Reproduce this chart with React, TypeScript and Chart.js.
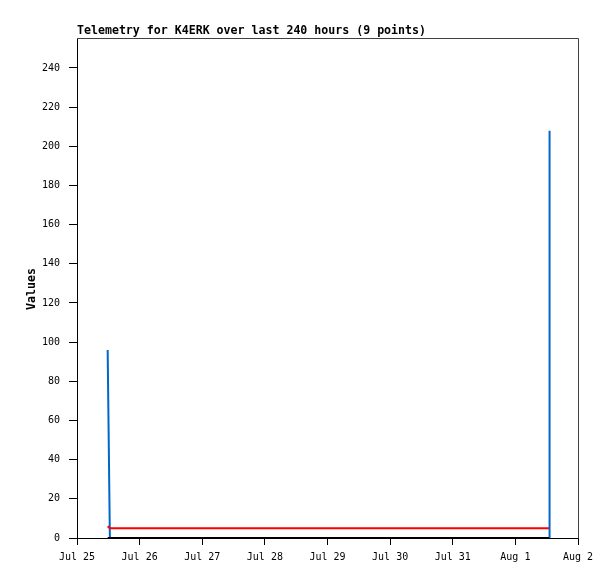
import React, { useEffect, useRef } from "react";
import { Chart, registerables } from "chart.js";

Chart.register(...registerables);

// hours since Jul 25 00:00
const times = [11.75, 12.6, 180.9, 181.1];
const blueValues = [96, 0, 0, 208];
const redValues = [6, 5, 5, null];
const blackValues = [0, 0, 0, 0];
const dayLabels = ["Jul 25", "Jul 26", "Jul 27", "Jul 28", "Jul 29", "Jul 30", "Jul 31", "Aug 1", "Aug 2"];
const xTicks = [0, 24, 48, 72, 96, 120, 144, 168, 192];
const yTicks = [0, 20, 40, 60, 80, 100, 120, 140, 160, 180, 200, 220, 240];
const titleText = "Telemetry for K4ERK over last 240 hours (9 points)";
const yTitle = "Values";

const W = 615;
const H = 579;

const toPts = (vals: (number | null)[]) => vals.map((v, i) => ({ x: times[i], y: v }));

export default function App() {
  const ref = useRef<HTMLCanvasElement | null>(null);
  useEffect(() => {
    if (!ref.current) return;
    const framePlugin = {
      id: "frame",
      afterDraw(chart: any) {
        const { ctx, chartArea: a } = chart;
        ctx.save();
        ctx.lineWidth = 1;
        // top & right borders (dark gray)
        ctx.strokeStyle = "#404040";
        ctx.beginPath();
        ctx.moveTo(a.left + 0.5, a.top + 0.5);
        ctx.lineTo(a.right + 0.5, a.top + 0.5);
        ctx.lineTo(a.right + 0.5, a.bottom + 0.5);
        ctx.stroke();
        // left & bottom axes (black)
        ctx.strokeStyle = "#000";
        ctx.beginPath();
        ctx.moveTo(a.left + 0.5, a.top + 0.5);
        ctx.lineTo(a.left + 0.5, a.bottom + 0.5);
        ctx.lineTo(a.right + 0.5, a.bottom + 0.5);
        ctx.stroke();
        ctx.fillStyle = "#000";
        ctx.font = "bold 11.6px 'DejaVu Sans Mono'";
        ctx.textAlign = "left";
        ctx.textBaseline = "alphabetic";
        ctx.fillText(titleText, 77, 34);
        ctx.translate(32, 289);
        ctx.rotate(-Math.PI / 2);
        ctx.font = "bold 11.6px 'DejaVu Sans Mono'";
        ctx.textAlign = "center";
        ctx.textBaseline = "middle";
        ctx.fillText(yTitle, 0, 0);
        ctx.restore();
      },
    };
    const chart = new Chart(ref.current, {
      type: "line",
      data: {
        datasets: [
          { data: toPts(blackValues), borderColor: "#000000", borderWidth: 2, pointRadius: 0, tension: 0 },
          { data: toPts(redValues), borderColor: "#ff0000", borderWidth: 2, pointRadius: 0, tension: 0 },
          { data: toPts(blueValues), borderColor: "#0066cc", borderWidth: 2, pointRadius: 0, tension: 0 },
        ],
      } as any,
      options: {
        animation: false,
        responsive: false,
        devicePixelRatio: 1,
        layout: { padding: { top: 38, right: 37, bottom: 0, left: 0 } },
        plugins: { legend: { display: false }, tooltip: { enabled: false }, title: { display: false } },
        scales: {
          x: {
            type: "linear",
            min: 0,
            max: 192,
            afterFit: (s: any) => { s.height = H - 538; },
            afterBuildTicks: (s: any) => { s.ticks = xTicks.map((v) => ({ value: v })); },
            ticks: {
              autoSkip: false,
              maxRotation: 0,
              padding: 6,
              color: "#000",
              font: { family: "'DejaVu Sans Mono'", size: 10 },
              callback: (v: any) => {
                const i = xTicks.indexOf(Number(v));
                return i >= 0 ? dayLabels[i] : "";
              },
            },
            grid: { drawOnChartArea: false, drawTicks: true, tickLength: 7, color: "#000" },
            border: { display: false },
          },
          y: {
            type: "linear",
            min: 0,
            max: 255.3,
            afterFit: (s: any) => { s.width = 77; },
            afterBuildTicks: (s: any) => { s.ticks = yTicks.map((v) => ({ value: v })); },
            ticks: {
              padding: 9,
              color: "#000",
              font: { family: "'DejaVu Sans Mono'", size: 10 },
            },
            grid: { drawOnChartArea: false, drawTicks: true, tickLength: 8, color: "#000" },
            border: { display: false },
          },
        },
      } as any,
      plugins: [framePlugin],
    });
    return () => chart.destroy();
  }, []);
  return (
    <canvas
      ref={ref}
      width={W}
      height={H}
      style={{ position: "fixed", left: 0, top: 0, width: W, height: H, background: "#fff" }}
    />
  );
}
